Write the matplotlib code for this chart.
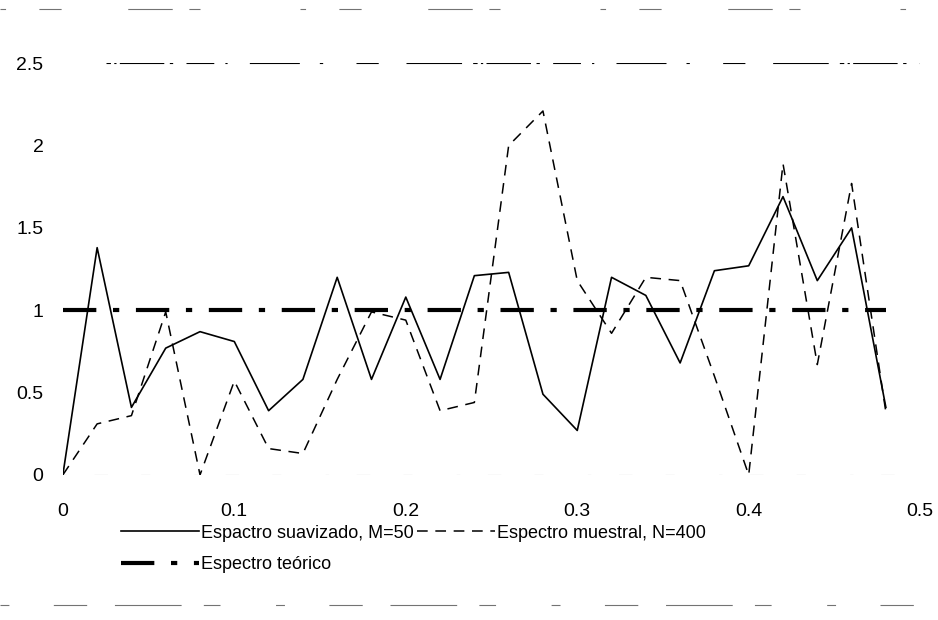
import matplotlib.pyplot as plt
from matplotlib.lines import Line2D

plt.rcParams['font.family'] = ['Liberation Sans', 'DejaVu Sans']

# frecuencias 0, 0.02, ..., 0.48
freq = [0.00, 0.02, 0.04, 0.06, 0.08, 0.10, 0.12, 0.14, 0.16, 0.18, 0.20, 0.22, 0.24,
        0.26, 0.28, 0.30, 0.32, 0.34, 0.36, 0.38, 0.40, 0.42, 0.44, 0.46, 0.48]

suavizado = [0.00, 1.38, 0.41, 0.77, 0.87, 0.81, 0.39, 0.58, 1.20, 0.58, 1.08, 0.58, 1.21,
             1.23, 0.49, 0.27, 1.20, 1.09, 0.68, 1.24, 1.27, 1.69, 1.18, 1.50, 0.41]

muestral = [0.00, 0.31, 0.36, 0.99, 0.00, 0.57, 0.16, 0.13, 0.58, 0.99, 0.94, 0.39, 0.44,
            2.00, 2.21, 1.18, 0.86, 1.20, 1.18, 0.60, 0.00, 1.89, 0.67, 1.77, 0.38]

teorico = [1.0] * len(freq)

xticks = [0, 0.1, 0.2, 0.3, 0.4, 0.5]
xlabels = ['0', '0.1', '0.2', '0.3', '0.4', '0.5']
yticks = [0, 0.5, 1, 1.5, 2, 2.5]
ylabels = ['0', '0.5', '1', '1.5', '2', '2.5']

fig = plt.figure(figsize=(9.38, 6.2), dpi=100)
ax = fig.add_axes([0.067, 0.234, 0.914, 0.664])

l1, = ax.plot(freq, suavizado, color='black', lw=1.2, label='Espactro suavizado, M=50')
l2, = ax.plot(freq, muestral, color='black', lw=1.1, dashes=(7, 5),
              label='Espectro muestral, N=400')
l3, = ax.plot(freq, teorico, color='black', lw=3.0, dashes=(8, 4, 1.5, 4),
              label='Espectro teórico')

# restos de la cuadrícula en los extremos
ax.plot([0.025, 0.5], [2.5, 2.5], color='black', lw=0.8, zorder=0,
        dashes=(4, 3, 2, 3, 40, 5, 3, 12, 25, 10, 2, 20, 45, 18, 3, 30, 20, 25, 50, 10))
ax.axhline(0, color='0.6', lw=0.8, dashes=(3, 25, 12, 30, 8, 40), zorder=0)

ax.set_xlim(0, 0.5)
ax.set_ylim(0, 2.5)
ax.set_xticks(xticks)
ax.set_xticklabels(xlabels)
ax.set_yticks(yticks)
ax.set_yticklabels(ylabels)
ax.tick_params(length=0, labelsize=14, pad=14)
ax.tick_params(axis='x', pad=20)
for s in ax.spines.values():
    s.set_visible(False)

# bordes cortados arriba y abajo
for yf, pat in [(0.985, (5, 30, 20, 60, 40, 15, 10, 90)), (0.025, (8, 40, 30, 25, 60, 20, 15, 50))]:
    fig.add_artist(Line2D([0.0, 1.0], [yf, yf], transform=fig.transFigure,
                          color='0.45', lw=0.8, dashes=pat))

fig.legend([l1, l3, l2], [l1.get_label(), l3.get_label(), l2.get_label()],
           loc='upper left', bbox_to_anchor=(0.112, 0.18), ncol=2, frameon=False,
           fontsize=13, handlelength=4.3, handletextpad=0.1, columnspacing=0.2,
           labelspacing=0.8)

fig.savefig('out.png', dpi=100)
